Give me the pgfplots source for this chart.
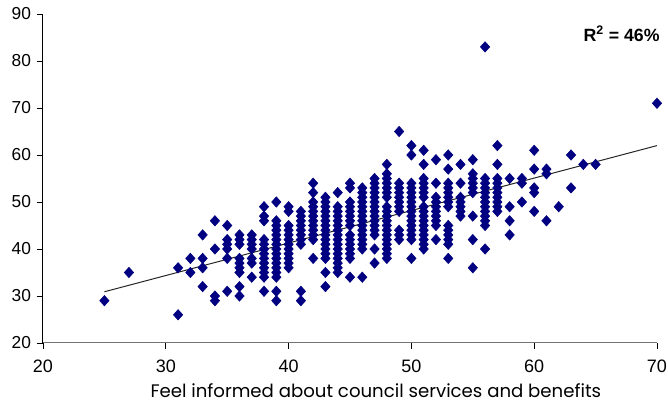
\documentclass[border=0pt]{standalone}
\usepackage{pgfplots}
\pgfplotsset{compat=1.18}
\usepackage{fontspec}
\setmainfont{Liberation Sans}
\newfontfamily\labelfont{Poppins}
\definecolor{navyblue}{RGB}{0,0,128}
\begin{document}
\begin{tikzpicture}
\useasboundingbox (-32.25pt,-47.25pt) rectangle (468.75pt,257.25pt);
\begin{axis}[
  at={(0,0)}, anchor=south west, scale only axis,
  width=460.5pt, height=246.75pt,
  xmin=20, xmax=70, ymin=20, ymax=90,
  xtick={20,30,...,70}, ytick={20,30,...,90},
  axis x line=bottom, axis y line=left,
  axis line style={-, line width=0.75pt},
  x axis line style={black!55},
  tick align=outside, tick style={black, line width=0.6pt}, major tick length=4.5pt,
  yticklabel style={font=\fontsize{13}{15}\selectfont, xshift=-1pt},
  xticklabel style={font=\fontsize{13.5}{15}\selectfont, yshift=-5pt},
  /pgf/number format/assume math mode=true,
  xlabel={Feel informed about council services and benefits},
  xlabel style={font=\labelfont\fontsize{13.6}{15}\selectfont, at={(axis description cs:0.542,0)}, anchor=center, yshift=-36pt},
  clip=false,
]
\addplot[only marks, mark=diamond*, mark size=3.9pt, color=navyblue, mark options={xscale=1.2}] coordinates {
(25,29) (27,35) (31,36) (31,26) (32,38) (32,35)
(33,43) (33,38) (33,36) (33,32)
(34,46) (34,40) (34,30) (34,29)
(35,45) (35,42) (35,41) (35,40) (35,38) (35,31)
(36,43) (36,42) (36,41) (36,38) (36,37) (36,36) (36,35) (36,32) (36,30)
(37,43) (37,42) (37,41) (37,40) (37,38) (37,37) (37,34)
(38,49) (38,47) (38,46) (38,42) (38,41) (38,40) (38,39) (38,38) (38,37) (38,36) (38,35) (38,34) (38,31)
(39,50) (39,46) (39,45) (39,44) (39,43) (39,42) (39,41) (39,40) (39,39) (39,38) (39,37) (39,36) (39,35) (39,34) (39,31) (39,29)
(40,49) (40,48) (40,45) (40,44) (40,43) (40,42) (40,41) (40,40) (40,39) (40,38) (40,37) (40,36)
(41,48) (41,47) (41,46) (41,45) (41,44) (41,43) (41,42) (41,41) (41,31) (41,29)
(42,54) (42,52) (42,50) (42,49) (42,48) (42,47) (42,46) (42,45) (42,44) (42,43) (42,42) (42,38)
(43,51) (43,50) (43,49) (43,48) (43,47) (43,46) (43,45) (43,44) (43,43) (43,42) (43,41) (43,40) (43,39) (43,38) (43,35) (43,32)
(44,52) (44,49) (44,48) (44,47) (44,46) (44,45) (44,44) (44,43) (44,42) (44,41) (44,40) (44,39) (44,38) (44,37) (44,36) (44,35)
(45,54) (45,53) (45,50) (45,49) (45,48) (45,47) (45,46) (45,45) (45,43) (45,42) (45,41) (45,40) (45,39) (45,38) (45,34)
(46,53) (46,52) (46,51) (46,50) (46,49) (46,48) (46,47) (46,46) (46,45) (46,44) (46,43) (46,42) (46,41) (46,40) (46,34)
(47,55) (47,54) (47,53) (47,52) (47,51) (47,50) (47,49) (47,48) (47,47) (47,46) (47,45) (47,44) (47,43) (47,40) (47,37)
(48,58) (48,56) (48,55) (48,54) (48,53) (48,52) (48,51) (48,49) (48,48) (48,47) (48,46) (48,45) (48,44) (48,43) (48,42) (48,41) (48,40) (48,39) (48,38)
(49,65) (49,54) (49,53) (49,52) (49,51) (49,50) (49,49) (49,48) (49,44) (49,43) (49,42)
(50,62) (50,60) (50,54) (50,53) (50,52) (50,51) (50,50) (50,49) (50,48) (50,47) (50,46) (50,45) (50,44) (50,43) (50,42) (50,38)
(51,61) (51,58) (51,55) (51,54) (51,53) (51,52) (51,51) (51,49) (51,48) (51,47) (51,46) (51,45) (51,44) (51,43) (51,42) (51,41) (51,40)
(52,59) (52,54) (52,51) (52,50) (52,49) (52,48) (52,47) (52,46) (52,45) (52,42)
(53,60) (53,57) (53,54) (53,53) (53,52) (53,51) (53,50) (53,49) (53,45) (53,44) (53,43) (53,42) (53,41) (53,38)
(54,58) (54,54) (54,51) (54,50) (54,49) (54,48) (54,47)
(55,59) (55,56) (55,55) (55,54) (55,53) (55,52) (55,47) (55,42) (55,36)
(56,83) (56,55) (56,54) (56,53) (56,52) (56,51) (56,50) (56,49) (56,48) (56,47) (56,46) (56,45) (56,40)
(57,62) (57,58) (57,55) (57,54) (57,53) (57,52) (57,51) (57,50) (57,49) (57,48)
(58,55) (58,49) (58,46) (58,43)
(59,55) (59,54) (59,50)
(60,61) (60,57) (60,53) (60,52) (60,48)
(61,57) (61,56) (61,46)
(62,49) (63,60) (63,53) (64,58) (65,58) (70,71)
};
\addplot[black!85, line width=0.75pt, no marks] coordinates {(25,30.9) (70,62.0)};
\node[anchor=east, font=\bfseries\fontsize{13.3}{15}\selectfont] at (rel axis cs:1,1) [xshift=5.5pt, yshift=-14.5pt] {R\textsuperscript{2} = 46\%};
\end{axis}
\end{tikzpicture}
\end{document}
